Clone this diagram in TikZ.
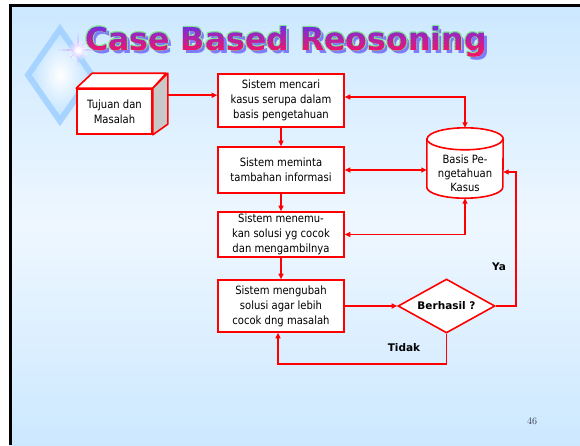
\documentclass[tikz,border=0pt]{standalone}
\usepackage{fontspec}
\newfontfamily\sans{DejaVu Sans}[FakeStretch=0.88]
\newfontfamily\headfont{DejaVu Sans}
\usetikzlibrary{arrows.meta,shapes.geometric,fadings,calc}

\definecolor{slidetop}{RGB}{204,232,255}
\definecolor{slidemid}{RGB}{238,247,255}
\definecolor{linered}{RGB}{255,0,0}
\definecolor{titletop}{RGB}{100,50,240}
\definecolor{titlebot}{RGB}{240,20,110}
\definecolor{titleedge}{RGB}{130,230,150}
\definecolor{titleshade}{RGB}{125,125,250}
\definecolor{gemblue}{RGB}{160,208,255}
\definecolor{gemfill}{RGB}{188,224,255}
\definecolor{sparkle}{RGB}{205,165,255}
\definecolor{sideface}{RGB}{200,200,200}
\definecolor{pagenum}{RGB}{60,60,80}

\tikzfading[name=glow, inner color=transparent!0, outer color=transparent!100]

\newcommand\cbrtitle{\headfont\fontsize{31.6}{32}\selectfont\bfseries Case Based Reosoning}

\begin{document}
\begin{tikzpicture}[x=1pt,y=-1pt,
  >={Triangle[length=5.5pt,width=5pt]},
  flow/.style={draw=linered, line width=1.5pt},
  box/.style={draw=linered, fill=white, line width=1.6pt, minimum width=126pt,
    align=center, inner sep=2pt, font=\sans\fontsize{11.4}{15}\selectfont},
  lbl/.style={font=\headfont\bfseries\fontsize{10.5}{12}\selectfont, inner sep=1pt},
  titletext/.style={anchor=base west, inner sep=0pt}]

\useasboundingbox (0,0) rectangle (580,445);
\fill[white] (0,0) rectangle (580,445);

% slide background and frame
\shade[top color=slidetop, bottom color=slidetop, middle color=slidemid]
  (10,5) rectangle (580,445);
\draw[black, line width=3pt] (10,445) -- (10,5) -- (580,5);

% crystal ornament
\shade[inner color=white, outer color=gemfill]
  (60,29) -- (92,75) -- (60,121) -- (28,75) -- cycle;
\draw[gemblue, line width=6pt, opacity=0.85, line join=miter]
  (60,29) -- (92,75) -- (60,121) -- (28,75) -- cycle;

% sparkle
\foreach \a/\l in {0/19, 45/11, 90/16, 135/11, 180/20, 225/11, 270/17, 315/11,
                   22/8, 67/8, 112/8, 157/8, 202/8, 247/8, 292/8, 337/8} {
  \fill[sparkle] (78,50) ++(\a+90:1.1) -- ($(78,50)+(\a:\l)$)
    -- ($(78,50)+(\a-90:1.1)$) -- cycle;
}
\fill[white, path fading=glow] (78,50) circle (11);
\fill[white, path fading=glow] (78,50) circle (6);

% title: shadow, green rim, then a top-to-bottom colour blend
\node[titletext, text=titleshade] (titleshadow) at (88,53) {\cbrtitle};
\foreach \dx/\dy in {0.8/0, -0.8/0, 0/0.8, 0/-0.8, 0.6/0.6, -0.6/0.6, 0.6/-0.6, -0.6/-0.6} {
  \node[titletext, text=titleedge] (titlerim) at (85+\dx,50+\dy) {\cbrtitle};
}
\foreach \i in {0,...,11} {
  \pgfmathsetmacro\p{min(100,\i*100/9)}
  \colorlet{tmix}{titlebot!\p!titletop}
  \begin{scope}
    \clip (80,22+3*\i) rectangle (500,25.6+3*\i);
    \node[titletext, text=tmix] (title) at (85,50) {\cbrtitle};
  \end{scope}
}
\begin{scope}
  \clip (80,57) rectangle (500,66);
  \node[titletext, text=titlebot] (titletail) at (85,50) {\cbrtitle};
\end{scope}

% goal block drawn as a box in perspective
\node[box, minimum width=75pt, minimum height=45pt] (goal) at (114.5,111.5) {Tujuan dan\\Masalah};
\filldraw[fill=white, draw=linered, line width=1.6pt, line join=round]
  (goal.north west) -- ++(16,-15) -- ++(74,0) -- (goal.north east) -- cycle;
\filldraw[fill=sideface, draw=linered, line width=1.6pt, line join=round]
  (goal.north east) -- ++(15,-15) -- ++(0,51) -- (goal.south east) -- cycle;
\coordinate (goalout) at ($(goal.north east)+(15,7)$);

% process steps
\node[box, minimum height=53pt] (search) at (281,100.5) {Sistem mencari\\kasus serupa dalam\\basis pengetahuan};
\node[box, minimum height=46pt] (ask) at (281,170) {Sistem meminta\\tambahan informasi};
\node[box, minimum height=45pt] (find) at (281,234.5) {Sistem menemu-\\kan solusi yg cocok\\dan mengambilnya};
\node[box, minimum height=52pt] (adapt) at (281,306) {Sistem mengubah\\solusi agar lebih\\cocok dng masalah};

% decision
\node[draw=linered, fill=white, line width=1.6pt, diamond, aspect=1.8, inner sep=0pt,
  minimum width=97pt, minimum height=54pt,
  font=\headfont\bfseries\fontsize{10.5}{12}\selectfont] (ok) at (446.5,306) {Berhasil ?};

% case base store
\node[minimum width=76pt, minimum height=70pt, inner sep=0pt] (kb) at (465,163) {};
\filldraw[fill=white, draw=linered, line width=1.6pt]
  ($(kb.north west)+(0,11)$) -- ($(kb.south west)+(0,-11)$)
  arc[start angle=180, end angle=360, x radius=38pt, y radius=11pt]
  -- ($(kb.north east)+(0,11)$)
  arc[start angle=0, end angle=180, x radius=38pt, y radius=11pt] -- cycle;
\draw[linered, line width=1.6pt] ($(kb.north west)+(0,11)$)
  arc[start angle=180, end angle=360, x radius=38pt, y radius=11pt];
\node[align=center, inner sep=0pt, font=\sans\fontsize{11.4}{14}\selectfont] (kbtext) at (465,173)
  {Basis Pe-\\ngetahuan\\Kasus};

% connectors
\draw[flow,->] (goalout) -- (goalout -| search.west);
\draw[flow,->] (search.south) -- (ask.north);
\draw[flow,->] (ask.south) -- (find.north);
\draw[flow,->] (find.south) -- (adapt.north);
\draw[flow,<->] ([yshift=3.5pt]search.east) -| (kb.north);
\draw[flow,<->] (ask.east) -- (ask.east -| kb.west);
\draw[flow,<->] (find.east) -| (kb.south);
\draw[flow,->] (adapt.east) -- (ok.west);
\coordinate (yescorner) at (516,172);
\draw[flow,->] (ok.east) -| (yescorner) -- (yescorner -| kb.east);
\draw[flow,->] (ok.south) -- ++(0,30) -| ([xshift=-3pt]adapt.south);

\node[lbl] (yes) at (499,267) {Ya};
\node[lbl] (no) at (404,348) {Tidak};

% slide number
\node[text=pagenum, font=\fontsize{10}{12}\selectfont, inner sep=0pt] (pageno) at (532,421) {46};
\end{tikzpicture}
\end{document}
